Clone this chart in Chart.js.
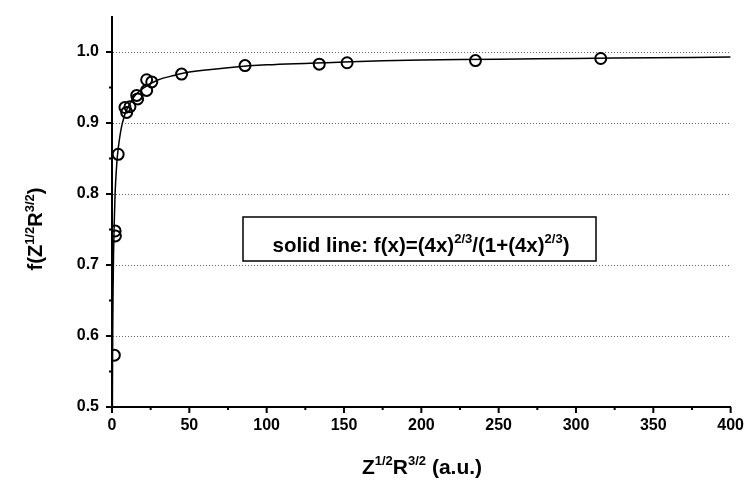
<!DOCTYPE html>
<html lang="en">
<head>
    <meta charset="UTF-8">
    <title>f(Z^1/2 R^3/2)</title>
    <script src="https://cdn.jsdelivr.net/npm/chart.js"></script>
    <style>
        html, body { margin: 0; padding: 0; background: #fff; }
        #wrap { width: 747px; height: 481px; }
    </style>
</head>
<body>
    <div id="wrap"><canvas id="chartF" width="747" height="481"></canvas></div>
    <script>
        // measured points (circles)
        const pointsX = [1.5, 2, 2.2, 4, 8.4, 9.5, 11.6, 16, 16.6, 22.4, 22.4, 25.7, 45, 86, 134, 152, 235, 316];
        const pointsY = [0.573, 0.748, 0.741, 0.856, 0.922, 0.915, 0.923, 0.939, 0.934, 0.961, 0.946, 0.958, 0.969, 0.981, 0.983, 0.985, 0.988, 0.991];

        // solid line
        const curveX = [0.1, 0.25, 0.5, 1, 2, 3, 4, 6, 8, 10, 15, 20, 30, 40, 50, 75, 100, 150, 200, 250, 300, 350, 400];
        const curveY = [0.352, 0.5, 0.614, 0.716, 0.8, 0.840, 0.864, 0.893, 0.910, 0.921, 0.939, 0.949, 0.961, 0.967, 0.972, 0.978, 0.982, 0.986, 0.989, 0.990, 0.991, 0.992, 0.993];

        const xTicks = [0, 50, 100, 150, 200, 250, 300, 350, 400];
        const yTicks = [0.5, 0.6, 0.7, 0.8, 0.9, 1.0];
        const xMinorTicks = [25, 75, 125, 175, 225, 275, 325, 375];
        const yMinorTicks = [0.55, 0.65, 0.75, 0.85, 0.95];

        const FONT = '"Liberation Sans", Arial, sans-serif';

        // draws text with superscript pieces, centered on x
        function drawRich(ctx, parts, x, y, size, supSize) {
            let w = 0;
            parts.forEach(p => {
                ctx.font = 'bold ' + (p[1] ? supSize : size) + 'px ' + FONT;
                w += ctx.measureText(p[0]).width;
            });
            let cx = x - w / 2;
            ctx.textBaseline = 'alphabetic';
            ctx.textAlign = 'left';
            parts.forEach(p => {
                ctx.font = 'bold ' + (p[1] ? supSize : size) + 'px ' + FONT;
                ctx.fillText(p[0], cx, p[1] ? y - size * 0.42 : y);
                cx += ctx.measureText(p[0]).width;
            });
            return w;
        }

        const extras = {
            id: 'extras',
            afterDraw(chart) {
                const ctx = chart.ctx;
                const xs = chart.scales.x, ys = chart.scales.y;
                const area = chart.chartArea;
                ctx.save();
                ctx.strokeStyle = '#000';
                ctx.fillStyle = '#000';
                ctx.lineWidth = 2;

                // tick marks, outward
                ctx.beginPath();
                xTicks.forEach(v => { const px = xs.getPixelForValue(v); ctx.moveTo(px, area.bottom); ctx.lineTo(px, area.bottom + 6); });
                xMinorTicks.forEach(v => { const px = xs.getPixelForValue(v); ctx.moveTo(px, area.bottom); ctx.lineTo(px, area.bottom + 3); });
                yTicks.forEach(v => { const py = ys.getPixelForValue(v); ctx.moveTo(area.left, py); ctx.lineTo(area.left - 6, py); });
                yMinorTicks.forEach(v => { const py = ys.getPixelForValue(v); ctx.moveTo(area.left, py); ctx.lineTo(area.left - 3, py); });
                ctx.stroke();

                // axis titles
                drawRich(ctx, [['Z', 0], ['1/2', 1], ['R', 0], ['3/2', 1], [' (a.u.)', 0]], 422, 474, 21, 13);
                ctx.save();
                ctx.translate(42, 229);
                ctx.rotate(-Math.PI / 2);
                drawRich(ctx, [['f(Z', 0], ['1/2', 1], ['R', 0], ['3/2', 1], [')', 0]], 0, 0, 20, 13);
                ctx.restore();

                // label box
                ctx.lineWidth = 1.5;
                ctx.fillStyle = '#fff';
                ctx.fillRect(243, 217, 353, 44);
                ctx.strokeRect(243, 217, 353, 44);
                ctx.fillStyle = '#000';
                drawRich(ctx, [['solid line: f(x)=(4x)', 0], ['2/3', 1], ['/(1+(4x)', 0], ['2/3', 1], [')', 0]], 421, 252, 20.5, 13);
                ctx.restore();
            }
        };

        const ctx = document.getElementById('chartF').getContext('2d');
        new Chart(ctx, {
            type: 'scatter',
            data: {
                datasets: [{
                    label: 'data',
                    data: pointsX.map((x, i) => ({ x: x, y: pointsY[i] })),
                    pointStyle: 'circle',
                    pointRadius: 5.5,
                    borderColor: '#000',
                    borderWidth: 2,
                    backgroundColor: 'rgba(255,255,255,0)',
                    showLine: false,
                    order: 0
                }, {
                    label: 'solid line',
                    data: curveX.map((x, i) => ({ x: x, y: curveY[i] })),
                    showLine: true,
                    pointRadius: 0,
                    borderColor: '#000',
                    borderWidth: 1.5,
                    tension: 0.3,
                    order: 1
                }]
            },
            options: {
                responsive: false,
                animation: false,
                layout: { padding: { top: 13, right: 16, left: 0, bottom: 0 } },
                plugins: {
                    legend: { display: false },
                    tooltip: { enabled: false }
                },
                scales: {
                    x: {
                        type: 'linear',
                        min: 0,
                        max: 400,
                        afterBuildTicks: s => { s.ticks = xTicks.map(v => ({ value: v })); },
                        afterFit: s => { s.height = 74; },
                        grid: { color: 'rgba(0,0,0,0)', tickLength: 6, drawOnChartArea: false },
                        border: { color: '#000', width: 2 },
                        ticks: { color: '#000', padding: 3, maxRotation: 0, font: { family: FONT, size: 16, weight: 'bold' } }
                    },
                    y: {
                        type: 'linear',
                        min: 0.5,
                        max: 1.05,
                        afterBuildTicks: s => { s.ticks = yTicks.map(v => ({ value: v })); },
                        afterFit: s => { s.width = 112; },
                        grid: {
                            color: c => (c.tick && c.tick.value > 0.55 ? '#666' : 'rgba(0,0,0,0)'),
                            tickColor: 'rgba(0,0,0,0)',
                            tickLength: 6,
                            lineWidth: 1
                        },
                        border: { color: '#000', width: 2, dash: [1, 2] },
                        ticks: {
                            color: '#000',
                            padding: 7,
                            font: { family: FONT, size: 16, weight: 'bold' },
                            callback: v => v.toFixed(1)
                        }
                    }
                }
            },
            plugins: [extras]
        });
    </script>
</body>
</html>
